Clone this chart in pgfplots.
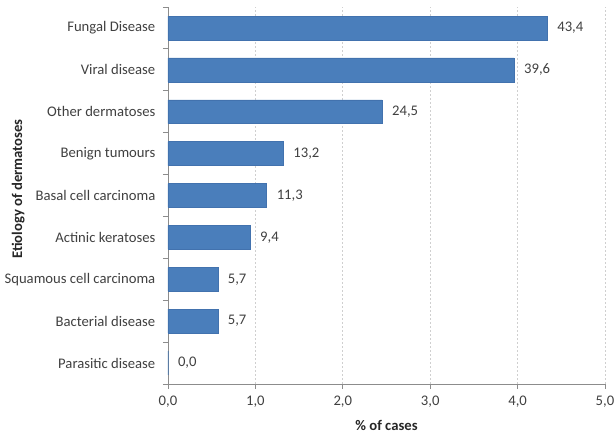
\documentclass[border=0pt]{standalone}
\usepackage{fontspec}
\setmainfont{Carlito}
\usepackage{pgfplots}
\usepackage{pgfplotstable}
\pgfplotsset{compat=1.18}

\definecolor{barblue}{HTML}{4A7EBB}
\definecolor{baredge}{HTML}{4272AE}
\definecolor{axisgray}{HTML}{8C8C8C}
\definecolor{gridgray}{HTML}{CFCFCF}
\definecolor{labelgray}{HTML}{404040}
\definecolor{titlegray}{HTML}{262626}

% share of cases per etiology (position 8 = top row)
\pgfplotstableread{
pos pct
8 43.4
7 39.6
6 24.5
5 13.2
4 11.3
3 9.4
2 5.7
1 5.7
0 0.0
}\etiology

\newcommand\lblfont{\fontsize{11}{13}\selectfont}

\begin{document}
\begin{tikzpicture}
\useasboundingbox (-126pt,-37.5pt) rectangle (336pt,288pt);
\begin{axis}[
  at={(0pt,0pt)}, anchor=south west,
  scale only axis,
  width=327.75pt, height=282.75pt,
  xbar, bar width=0.57,
  xmin=0, xmax=50,
  ymin=-0.5, ymax=8.5,
  axis x line*=bottom, axis y line*=left,
  axis line style={-, axisgray, line width=0.6pt},
  tick style={axisgray, line width=0.6pt},
  tick align=outside,
  major tick length=3.75pt,
  xtick={0,10,...,50},
  xticklabels={{0,0},{1,0},{2,0},{3,0},{4,0},{5,0}},
  xticklabel style={yshift=-2pt},
  xmajorgrids=true,
  grid style={gridgray, dash pattern=on 1.5pt off 1.5pt, line width=0.5pt},
  ytick={-0.5,0.5,...,8.5},
  yticklabels={},
  extra y ticks={0,...,8},
  extra y tick labels={Parasitic disease, Bacterial disease, Squamous cell carcinoma, Actinic keratoses, Basal cell carcinoma, Benign tumours, Other dermatoses, Viral disease, Fungal Disease},
  extra y tick style={major tick length=0pt, ymajorgrids=false,
    yticklabel style={xshift=-6pt}},
  ticklabel style={font=\lblfont, text=labelgray},
  xlabel={\% of cases},
  ylabel={Etiology of dermatoses},
  label style={font=\lblfont\bfseries, text=titlegray},
  xlabel style={at={(axis description cs:0.5,0)}, anchor=center, yshift=-31pt},
  ylabel style={at={(axis description cs:-0.343,0.517)}, anchor=center},
  point meta=x,
  nodes near coords,
  nodes near coords style={font=\lblfont, text=labelgray, anchor=west, xshift=4pt,
    /pgf/number format/.cd, fixed, fixed zerofill, precision=1, use comma, assume math mode=true},
]
\addplot[fill=barblue, draw=baredge, line width=0.4pt] table[x=pct, y=pos] {\etiology};
\end{axis}
\end{tikzpicture}
\end{document}
